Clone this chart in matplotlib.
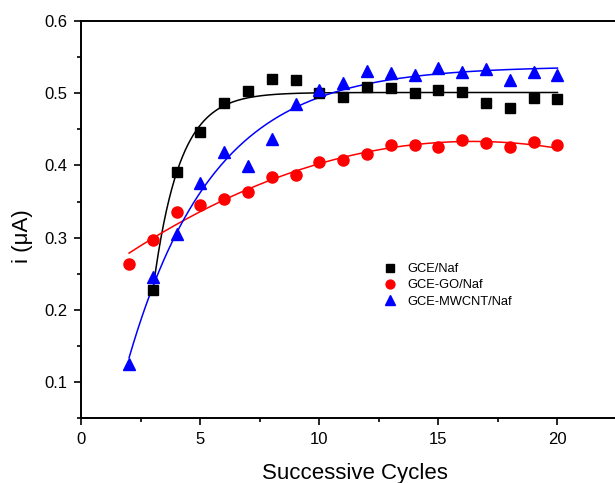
import matplotlib

matplotlib.use("Agg")
import matplotlib.pyplot as plt
import numpy as np
from matplotlib.ticker import MultipleLocator


# GCE/Naf (cycles 3-20)
x_naf = np.arange(3, 21)
y_naf = np.array([0.228, 0.391, 0.446, 0.486, 0.503, 0.520, 0.518, 0.500, 0.495,
                  0.509, 0.507, 0.500, 0.504, 0.502, 0.486, 0.479, 0.493, 0.492])

# GCE-GO/Naf (cycles 2-20)
x_go = np.arange(2, 21)
y_go = np.array([0.264, 0.297, 0.335, 0.345, 0.354, 0.363, 0.384, 0.387, 0.405,
                 0.408, 0.416, 0.428, 0.428, 0.426, 0.435, 0.431, 0.426, 0.433, 0.428])

# GCE-MWCNT/Naf (cycles 2-20)
x_cnt = np.arange(2, 21)
y_cnt = np.array([0.125, 0.246, 0.305, 0.376, 0.419, 0.399, 0.437, 0.485, 0.504,
                  0.514, 0.531, 0.528, 0.525, 0.535, 0.530, 0.534, 0.518, 0.530, 0.525])


def exp_fit(x, y):
    # y = A - B*exp(-k x); grid over k, linear least squares for A, B
    best = None
    for k in np.linspace(0.05, 2.0, 400):
        M = np.column_stack([np.ones_like(x, dtype=float), -np.exp(-k * x)])
        coef, *_ = np.linalg.lstsq(M, y, rcond=None)
        err = np.sum((M @ coef - y) ** 2)
        if best is None or err < best[0]:
            best = (err, k, coef)
    _, k, (a, b) = best
    return lambda t: a - b * np.exp(-k * t)


plt.rcParams.update({
    "font.family": ["Liberation Sans", "DejaVu Sans"],
    "font.size": 12,
})

fig = plt.figure(figsize=(6.15, 4.83), dpi=100)
ax = fig.add_axes([0.1325, 0.134, 0.890, 0.8225])

t_naf = np.linspace(x_naf[0], x_naf[-1], 300)
t_go = np.linspace(x_go[0], x_go[-1], 300)
t_cnt = np.linspace(x_cnt[0], x_cnt[-1], 300)

ax.plot(t_naf, exp_fit(x_naf, y_naf)(t_naf), color="black", lw=1.1)
ax.plot(t_go, np.polyval(np.polyfit(x_go, y_go, 2), t_go), color="red", lw=1.1)
ax.plot(t_cnt, exp_fit(x_cnt, y_cnt)(t_cnt), color="blue", lw=1.1)

ax.plot(x_naf, y_naf, "s", color="black", ms=7, ls="none", label="GCE/Naf")
ax.plot(x_go, y_go, "o", color="red", ms=8, ls="none", label="GCE-GO/Naf")
ax.plot(x_cnt, y_cnt, "^", color="blue", ms=8.5, ls="none", label="GCE-MWCNT/Naf")

ax.set_xlim(0, 23)
ax.set_ylim(0.05, 0.6)
ax.xaxis.set_major_locator(MultipleLocator(5))
ax.xaxis.set_minor_locator(MultipleLocator(2.5))
ax.yaxis.set_major_locator(MultipleLocator(0.1))
ax.yaxis.set_minor_locator(MultipleLocator(0.05))
ax.tick_params(which="both", direction="out", width=1.2)
ax.tick_params(which="major", length=5, pad=5)
ax.tick_params(which="minor", length=3)
for s in ax.spines.values():
    s.set_linewidth(1.4)

ax.set_xlabel("Successive Cycles", fontsize=16, va="baseline")
ax.set_ylabel("i (\u03bcA)", fontsize=16)
ax.xaxis.set_label_coords(0.5, -0.154)
ax.yaxis.set_label_coords(-0.089, 0.458)

ax.legend(loc="upper left", bbox_to_anchor=(0.53, 0.42), frameon=False,
          fontsize=9.3, handlelength=1.0, handletextpad=0.9, labelspacing=0.33,
          markerscale=0.8)

fig.savefig("out.png", dpi=100)
